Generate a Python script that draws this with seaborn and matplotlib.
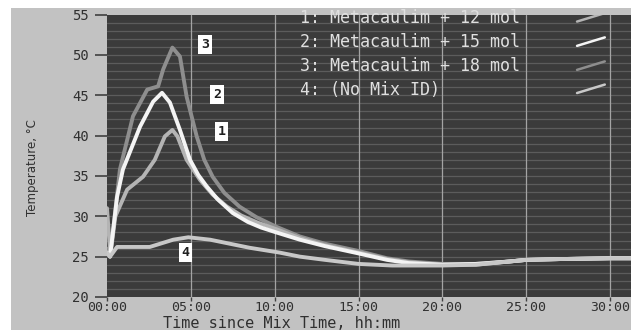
import matplotlib.pyplot as plt
import seaborn as sns
import pandas as pd
from matplotlib.patches import Rectangle
from matplotlib.lines import Line2D

# hours since mix, temperature in deg C
t1 = [0.0, 0.2, 0.5, 1.2, 2.15, 2.85, 3.45, 3.9, 4.2, 4.75, 5.55, 6.3, 7.15, 8.0, 9.0, 10.1,
      11.5, 13.0, 15.0, 16.7, 18.0, 20.0, 22.0, 24.0, 25.0, 27.0, 30.0, 31.4]
T1 = [31.0, 25.2, 30.0, 33.3, 34.9, 37.0, 39.9, 40.7, 39.9, 37.0, 34.5, 32.7, 31.2, 30.1, 29.2, 28.4,
      27.3, 26.4, 25.5, 24.7, 24.3, 24.0, 24.0, 24.4, 24.6, 24.7, 24.8, 24.8]

t2 = [0.0, 0.18, 0.6, 0.95, 1.97, 2.75, 3.28, 3.75, 4.35, 4.95, 5.45, 5.95, 6.6, 7.5, 8.4, 9.2, 10.1,
      11.5, 13.0, 15.0, 16.7, 18.0, 20.0, 22.0, 24.0, 25.0, 27.0, 30.0, 31.4]
T2 = [25.5, 25.0, 32.4, 35.8, 41.1, 44.2, 45.3, 44.1, 40.7, 37.0, 35.1, 33.7, 32.1, 30.4, 29.3, 28.6, 28.0,
      27.1, 26.3, 25.4, 24.6, 24.2, 24.0, 24.1, 24.4, 24.6, 24.7, 24.8, 24.8]

t3 = [0.0, 0.18, 0.77, 1.55, 2.4, 3.05, 3.35, 3.9, 4.35, 4.75, 5.35, 5.8, 6.3, 7.0, 7.9, 8.9, 10.1,
      11.5, 13.0, 15.0, 16.7, 18.0, 20.0, 22.0, 24.0, 25.0, 27.0, 30.0, 31.4]
T3 = [26.0, 25.0, 35.8, 42.4, 45.7, 46.1, 48.2, 50.9, 49.8, 44.8, 39.9, 37.0, 34.9, 32.9, 31.2, 29.9, 28.7,
      27.5, 26.6, 25.7, 24.8, 24.4, 24.1, 24.1, 24.4, 24.6, 24.7, 24.8, 24.8]

t4 = [0.0, 0.18, 0.6, 2.55, 3.95, 4.85, 6.15, 8.5, 10.3,
      11.5, 13.0, 15.0, 17.0, 20.0, 22.0, 24.0, 25.0, 27.0, 30.0, 31.4]
T4 = [25.5, 25.0, 26.2, 26.2, 27.1, 27.4, 27.1, 26.1, 25.5,
      25.0, 24.6, 24.1, 23.9, 23.9, 24.0, 24.4, 24.6, 24.7, 24.8, 24.8]

mixes = ['1: Metacaulim + 12 mol', '2: Metacaulim + 15 mol',
         '3: Metacaulim + 18 mol', '4: (No Mix ID)']
colors = ['#b4b4b4', '#f4f4f4', '#8e8e8e', '#c8c8c8']
# where the little number boxes sit
tag_t = [6.85, 6.56, 5.84, 4.7]
tag_T = [40.5, 45.1, 51.3, 25.5]

frames = []
for name, t, T in zip(mixes, [t1, t2, t3, t4], [T1, T2, T3, T4]):
    frames.append(pd.DataFrame({'hours': t, 'temp': T, 'mix': name}))
df = pd.concat(frames, ignore_index=True)

sns.set_style('dark')
mono = 'DejaVu Sans Mono'

fig = plt.figure(figsize=(6.31, 3.30), dpi=100, facecolor='white')
fig.patches.append(Rectangle((11 / 631, 0), 1, 1 - 8 / 330, transform=fig.transFigure,
                             facecolor='#c2c2c2', edgecolor='none', zorder=-5))
ax = fig.add_axes([107 / 631, 1 - 297 / 330, 1 - 107 / 631, (297 - 14.5) / 330])
ax.set_facecolor('#3b3b3b')

# draw order: 3 at the back, then 1, 2, 4
order = [mixes[2], mixes[0], mixes[1], mixes[3]]
pal = dict(zip(mixes, colors))
sns.lineplot(data=df, x='hours', y='temp', hue='mix', hue_order=order, palette=pal,
             estimator=None, sort=False, linewidth=2.8, legend=False, ax=ax)

ax.set_xlim(0, 31.25)
ax.set_ylim(20, 55)

for y in range(21, 55):
    ax.axhline(y, color='#5c5c5c', lw=0.9, zorder=0.5)
for x in range(5, 31, 5):
    ax.axvline(x, color='#a4a4a4', lw=0.9, zorder=0.6)
ax.grid(False)
for s in ax.spines.values():
    s.set_visible(False)

ax.set_xticks(range(0, 31, 5))
ax.set_xticklabels(['%02d:00' % h for h in range(0, 31, 5)], fontfamily=mono,
                   fontsize=9.5, color='#303030')
ax.set_yticks(range(20, 56, 5))
ax.set_yticklabels([str(v) for v in range(20, 56, 5)], fontfamily=mono,
                   fontsize=10, color='#303030')
ax.tick_params(axis='y', direction='out', length=9, width=1.2, color='#404040', pad=4, left=True)
ax.tick_params(axis='x', direction='out', length=3, width=1, color='#404040', pad=0, bottom=True)

ax.set_xlabel('')
fig.text(282 / 631, 1 - 328.5 / 330, 'Time since Mix Time, hh:mm', fontfamily=mono,
         fontsize=11, color='#303030', ha='center', va='baseline')
ax.set_ylabel('Temperature, °C', fontsize=8.5, color='#303030')
ax.yaxis.set_label_coords(-0.13, 0.457)

for i in range(4):
    ax.text(tag_t[i], tag_T[i], str(i + 1), fontfamily=mono, fontsize=9.5,
            fontweight='bold', color='#202020', ha='center', va='center',
            bbox=dict(boxstyle='square,pad=0.2', facecolor='white', edgecolor='none'))

# legend block, top right
rows = [0.987, 0.901, 0.816, 0.734]
for name, c, yy in zip(mixes, colors, rows):
    ax.text(0.368, yy, name, transform=ax.transAxes, fontfamily=mono, fontsize=12,
            color='#e0e0e0', ha='left', va='center')
    ax.add_line(Line2D([0.897, 0.950], [yy - 0.012, yy + 0.018], transform=ax.transAxes,
                       color=c, lw=1.8))

fig.savefig('out.png', dpi=100, facecolor=fig.get_facecolor())
